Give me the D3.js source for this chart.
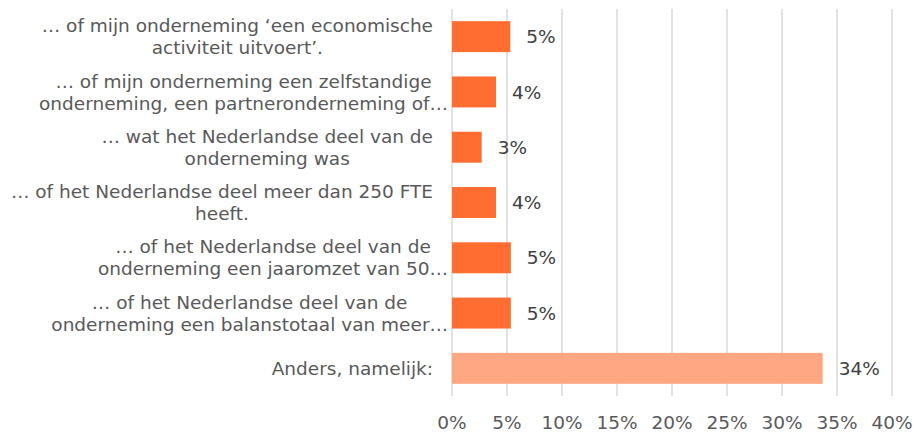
<html>
<head>
<meta charset="utf-8">
<style>
  body { margin: 0; background: #fff; }
  svg { display: block; font-family: "DejaVu Sans", Verdana, sans-serif; }
</style>
</head>
<body>
<svg id="chart"></svg>
<script src="https://d3js.org/d3.v7.min.js"></script>
<script>
const categories = [
  ["… of mijn onderneming ‘een economische", "activiteit uitvoert’."],
  ["… of mijn onderneming een zelfstandige", "onderneming, een partneronderneming of…"],
  ["… wat het Nederlandse deel van de", "onderneming was"],
  ["… of het Nederlandse deel meer dan 250 FTE", "heeft."],
  ["… of het Nederlandse deel van de", "onderneming een jaaromzet van 50…"],
  ["… of het Nederlandse deel van de", "onderneming een balanstotaal van meer…"],
  ["Anders, namelijk:"]
];
const values = [5.3, 4.0, 2.7, 4.0, 5.35, 5.35, 33.7];
const highlight = [false, false, false, false, false, false, true];
const ticks = [0, 5, 10, 15, 20, 25, 30, 35, 40];

const width = 913, height = 435;
const svg = d3.select("#chart").attr("width", width).attr("height", height);

const x = d3.scaleLinear().domain([0, 40]).range([452, 892]);
const y = d3.scaleBand().domain(d3.range(categories.length)).range([9, 396])
  .paddingInner(0.44).paddingOuter(0.22);

// gridlines
svg.append("g").selectAll("line").data(ticks).enter().append("line")
  .attr("x1", d => x(d)).attr("x2", d => x(d))
  .attr("y1", 9).attr("y2", 396)
  .attr("stroke", "#d9d9d9").attr("stroke-width", 1.5);

// bars
svg.append("g").selectAll("rect").data(values).enter().append("rect")
  .attr("x", x(0)).attr("y", (d, i) => y(i))
  .attr("width", d => x(d) - x(0)).attr("height", y.bandwidth())
  .attr("fill", (d, i) => highlight[i] ? "#ffa783" : "#ff6d31");

// value labels
svg.append("g").selectAll("text").data(values).enter().append("text")
  .attr("x", d => x(d) + 16)
  .attr("y", (d, i) => y(i) + y.bandwidth() / 2)
  .attr("dy", "0.36em")
  .attr("font-size", 18.5).attr("fill", "#404040")
  .text(d => Math.round(d) + "%");

// category labels: lines centred in a block, block right-aligned
const catG = svg.append("g").attr("font-size", 18.5).attr("fill", "#595959");
categories.forEach((lines, i) => {
  const cy = y(i) + y.bandwidth() / 2;
  const t = catG.append("text").attr("text-anchor", "middle");
  const spans = lines.map((ln, j) => t.append("tspan")
    .attr("y", cy + (j - (lines.length - 1) / 2) * 22)
    .attr("dy", "0.36em").text(ln));
  const w = d3.max(spans, s => s.node().getComputedTextLength());
  const right = lines.some(ln => ln.endsWith("…") && !ln.startsWith("…")) ? 448 : 433;
  spans.forEach(s => s.attr("x", right - w / 2));
});

// x axis tick labels
svg.append("g").selectAll("text").data(ticks).enter().append("text")
  .attr("x", d => x(d)).attr("y", 422).attr("dy", "0.36em")
  .attr("text-anchor", "middle")
  .attr("font-size", 18.5).attr("fill", "#595959")
  .text(d => d + "%");
</script>
</body>
</html>
